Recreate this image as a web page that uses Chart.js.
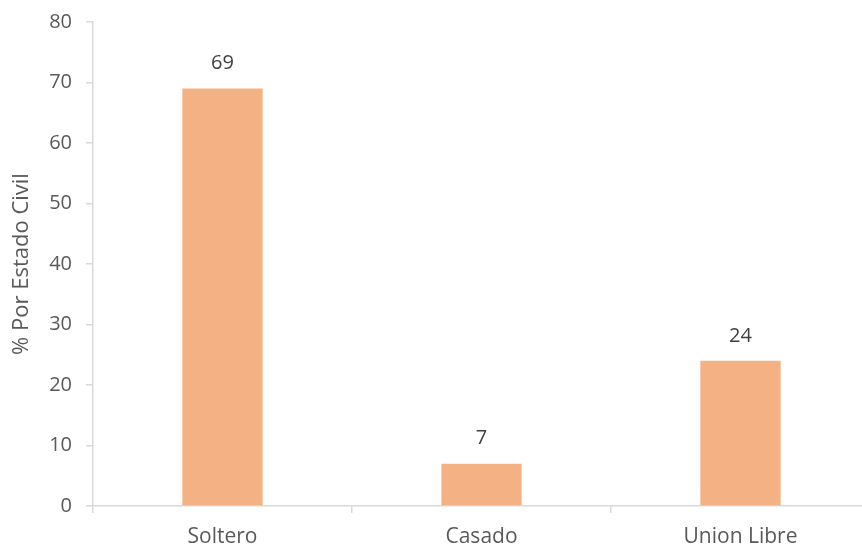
<!DOCTYPE html>
<html>
<head>
<meta charset="utf-8">
<script src="https://cdn.jsdelivr.net/npm/chart.js@4/dist/chart.umd.min.js"></script>
<style>
	html, body { margin: 0; padding: 0; background: #fff; overflow: hidden; }
	canvas { display: block; margin-top: -4px; }
</style>
</head>
<body>
<canvas id="barChart" width="870" height="554"></canvas>
<script>
// Datos: porcentaje por estado civil
const categorias = ["Soltero", "Casado", "Union Libre"];
const porcentajes = [69, 7, 24];
const yTicks = [0, 10, 20, 30, 40, 50, 60, 70, 80];

const FONT = "'Open Sans', 'Liberation Sans', sans-serif";
const gris = "#595959";
const ejeColor = "#d9d9d9";

// Etiquetas de valor encima de cada barra
const valorEncima = {
	id: "valorEncima",
	afterDatasetsDraw(chart) {
		const ctx = chart.ctx;
		const meta = chart.getDatasetMeta(0);
		ctx.save();
		ctx.font = "20px " + FONT;
		ctx.fillStyle = "#404040";
		ctx.textAlign = "center";
		ctx.textBaseline = "middle";
		meta.data.forEach((bar, i) => {
			ctx.fillText(String(porcentajes[i]), bar.x, bar.y - 25);
		});
		ctx.restore();
	},
};

const ctx = document.getElementById("barChart").getContext("2d");
new Chart(ctx, {
	type: "bar",
	data: {
		labels: categorias,
		datasets: [
			{
				data: porcentajes,
				backgroundColor: "#f4b183",
				borderWidth: 0,
				barPercentage: 0.31,
				categoryPercentage: 1,
			},
		],
	},
	options: {
		responsive: false,
		animation: false,
		devicePixelRatio: 1,
		layout: { padding: { top: 18, right: 0, bottom: 0, left: 0 } },
		plugins: {
			legend: { display: false },
			tooltip: { enabled: false },
		},
		scales: {
			x: {
				offset: true,
				grid: {
					offset: true,
					drawOnChartArea: false,
					drawTicks: true,
					tickLength: 7,
					color: ejeColor,
					lineWidth: 1.5,
				},
				border: { color: ejeColor, width: 1.5 },
				ticks: {
					color: gris,
					font: { family: FONT, size: 21 },
					padding: 11,
					maxRotation: 0,
				},
				afterFit(scale) {
					scale.height = 44;
				},
			},
			y: {
				min: yTicks[0],
				max: yTicks[yTicks.length - 1],
				afterBuildTicks(scale) {
					scale.ticks = yTicks.map((v) => ({ value: v }));
				},
				grid: {
					drawOnChartArea: false,
					drawTicks: true,
					tickLength: 7,
					color: ejeColor,
					lineWidth: 1.5,
				},
				border: { color: ejeColor, width: 1.5 },
				ticks: {
					color: gris,
					font: { family: FONT, size: 20 },
					padding: 14,
					autoSkip: false,
				},
				title: {
					display: true,
					text: "% Por Estado Civil",
					color: gris,
					font: { family: FONT, size: 22 },
					padding: { top: 9, bottom: 0 },
				},
				afterFit(scale) {
					scale.width = 93;
				},
			},
		},
	},
	plugins: [valorEncima],
});
</script>
</body>
</html>
